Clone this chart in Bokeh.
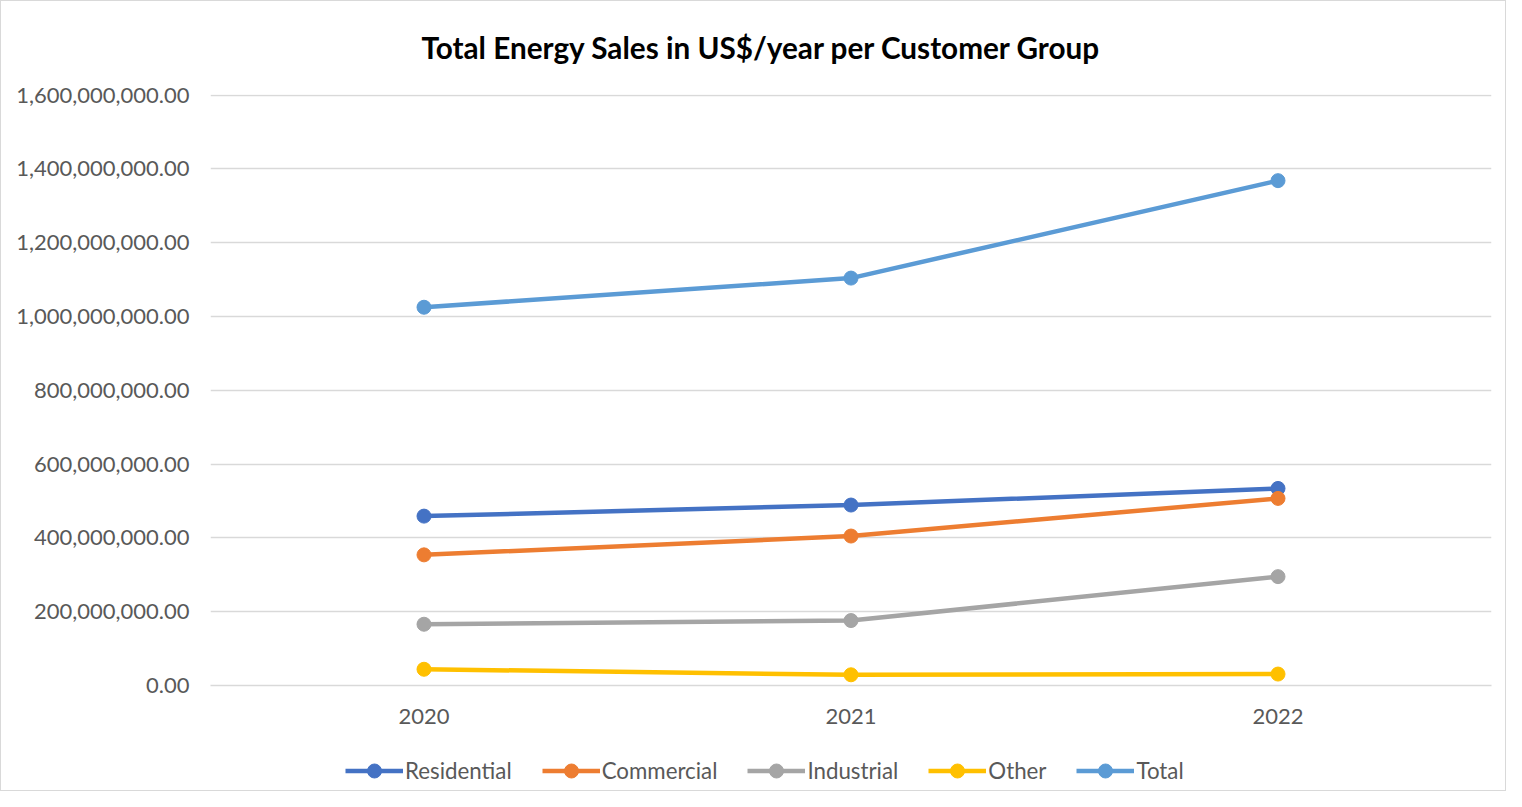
from bokeh.plotting import figure
from bokeh.layouts import column
from bokeh.models import Legend, LegendItem, NumeralTickFormatter, FixedTicker, Range1d
from bokeh.embed import file_html
from bokeh.resources import INLINE

years = ["2020", "2021", "2022"]
residential = [459e6, 489e6, 534e6]
commercial = [354e6, 405e6, 507e6]
industrial = [166e6, 176e6, 295e6]
other = [44e6, 29e6, 31e6]
total = [1025e6, 1104e6, 1368e6]

series = [
    ("Residential", residential, "#4472C4"),
    ("Commercial", commercial, "#ED7D31"),
    ("Industrial", industrial, "#A5A5A5"),
    ("Other", other, "#FFC000"),
    ("Total", total, "#5B9BD5"),
]

FONT = "Lato"
W = 1504

p = figure(
    x_range=years, y_range=Range1d(0, 1.6015e9),
    width=W, height=749, output_backend="svg", toolbar_location=None,
    min_border_left=209, min_border_right=14, min_border_top=91, min_border_bottom=65,
    title="Total Energy Sales in US$/year per Customer Group",
)
p.x_range.range_padding = 0

p.title.align = "left"
p.title.vertical_align = "top"
p.title.text_font = FONT
p.title.text_font_size = "29.7px"
p.title.text_font_style = "bold"
p.title.text_color = "#000000"
p.title.offset = 211
p.title.standoff = 56

p.outline_line_color = None
p.xgrid.grid_line_color = None
p.ygrid.grid_line_color = "#d9d9d9"
p.ygrid.grid_line_width = 1.5

p.yaxis.ticker = FixedTicker(ticks=[i * 2e8 for i in range(9)])
p.yaxis.formatter = NumeralTickFormatter(format="0,0.00")
p.yaxis.axis_line_color = None
p.yaxis.major_tick_line_color = None
p.yaxis.minor_tick_line_color = None
p.yaxis.major_label_text_font = FONT
p.yaxis.major_label_text_font_size = "22px"
p.yaxis.major_label_text_color = "#595959"
p.yaxis.major_label_standoff = 15

p.xaxis.axis_line_color = "#d9d9d9"
p.xaxis.axis_line_width = 1.5
p.xaxis.major_tick_line_color = None
p.xaxis.minor_tick_line_color = None
p.xaxis.major_label_text_font = FONT
p.xaxis.major_label_text_font_size = "22px"
p.xaxis.major_label_text_color = "#595959"
p.xaxis.major_label_standoff = 17

for name, vals, color in series:
    p.line(years, vals, line_color=color, line_width=4.5)
    p.scatter(years, vals, size=14, fill_color=color, line_color=color)

# legend strip (separate figure below the chart); its y range keeps the
# series out of view so that only the legend entries show
lf = figure(width=W, height=40, output_backend="svg", toolbar_location=None,
            x_range=years, y_range=Range1d(2e9, 3e9),
            min_border_left=0, min_border_right=0, min_border_top=0, min_border_bottom=0)
lf.axis.visible = False
lf.grid.visible = False
lf.outline_line_color = None
items = []
for name, vals, color in series:
    l = lf.line(years, vals, line_color=color, line_width=4.5)
    c = lf.scatter(years, vals, size=14, fill_color=color, line_color=color)
    items.append(LegendItem(label=name, renderers=[l, c]))
legend = Legend(items=items, orientation="horizontal", location=(135, 2),
                border_line_color=None, background_fill_alpha=0,
                label_text_font=FONT, label_text_font_size="22.3px",
                label_text_color="#595959", glyph_width=58, glyph_height=35,
                label_standoff=2, spacing=30, padding=0, margin=0)
lf.add_layout(legend, "center")

layout = column(p, lf, spacing=0)
layout.styles = {"border": "1px solid #d9d9d9"}

open("out.html", "w").write(file_html(layout, INLINE))
